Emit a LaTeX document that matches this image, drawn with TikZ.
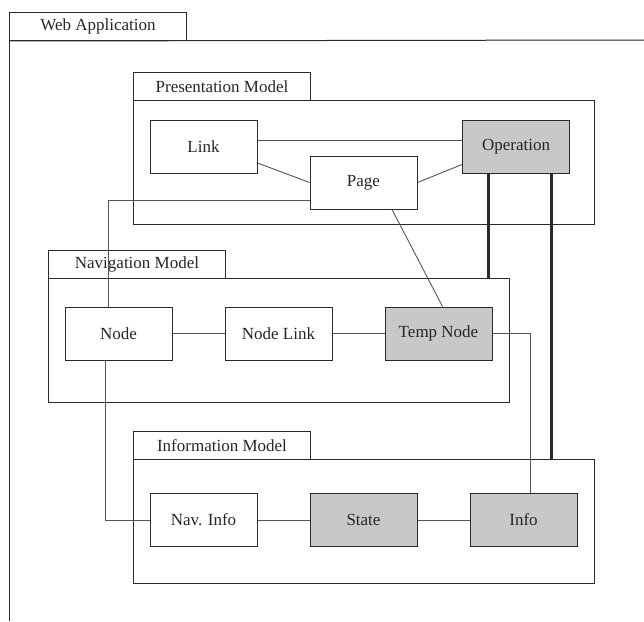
\documentclass[tikz,border=0pt]{standalone}
\usepackage{fontspec}
\setmainfont{Liberation Serif}
\usetikzlibrary{positioning}
\definecolor{ink}{HTML}{2A2A2A}
\definecolor{wirecol}{HTML}{555555}
\definecolor{shade}{HTML}{C8C8C8}

\begin{document}
\begin{tikzpicture}[x=1pt, y=-1pt, font=\fontsize{17}{20}\selectfont, text=black!85,
    cls/.style={draw=ink, line width=1pt, fill=white, minimum width=107pt, minimum height=53pt, inner sep=0pt},
    tempcls/.style={cls, fill=shade},
    tab/.style={draw=ink, line width=1pt, minimum width=177pt, minimum height=28pt, inner sep=0pt, anchor=north west},
    pkg/.style={draw=ink, line width=1pt, minimum width=461pt, minimum height=124pt, inner sep=0pt, anchor=north west},
    wire/.style={draw=wirecol, line width=0.9pt},
    bond/.style={draw=ink, line width=3pt}]
  \useasboundingbox (0,0) rectangle (644,621);

  % The application frame (runs off the page to the right and bottom).
  \node[tab] (webtab) at (9,12) {Web Application};
  \draw[ink, line width=1pt] (webtab.south west) -- (644,40);
  \draw[ink, line width=1pt] (webtab.south west) -- (9,621);

  % Packages.
  \node[tab] (prestab) at (133,72) {Presentation Model};
  \node[pkg] (presbox) at (133,100) {};
  \node[tab] (navtab) at (48,250) {Navigation Model};
  \node[pkg] (navbox) at (48,278) {};
  \node[tab] (infotab) at (133,431) {Information Model};
  \node[pkg] (infobox) at (133,459) {};

  % Presentation classes.
  \node[cls] (link) at (203.5,146.5) {Link};
  \node[tempcls] (oper) at (516,146.5) {Operation};
  \node[cls] (page) at (363.5,182.5) {Page};

  % Navigation classes.
  \node[cls] (node) at (118.5,333.5) {Node};
  \node[cls, right=52pt of node] (nlink) {Node Link};
  \node[tempcls, right=52pt of nlink] (tmp) {Temp Node};

  % Information classes.
  \node[cls] (ninfo) at (203.5,520) {Nav. Info};
  \node[tempcls, right=52pt of ninfo] (state) {State};
  \node[tempcls, right=52pt of state] (info) {Info};

  % Connectors.
  \draw[wire] ([yshift=6.5pt]link.east) -- ([yshift=6.5pt]oper.west);
  \draw[wire] ([yshift=-16.5pt]link.east) -- (page.west);
  \draw[wire] (page.east) -- ([yshift=-18pt]oper.west);
  \draw[wire] ([yshift=-17.5pt]page.west) -| ([xshift=-10.5pt]node.north);
  \draw[wire] ([xshift=28.5pt]page.south) -- ([xshift=4pt]tmp.north);
  \draw[wire] (node) -- (nlink);
  \draw[wire] (nlink) -- (tmp);
  \draw[wire] (tmp.east) -| ([xshift=6.5pt]info.north);
  \draw[wire] ([xshift=-13.5pt]node.south) |- (ninfo.west);
  \draw[wire] (ninfo) -- (state);
  \draw[wire] (state) -- (info);

  % Heavy links from Operation.
  \draw[bond] ([xshift=-28pt]oper.south) -- ([xshift=-28pt]oper.south |- navbox.north);
  \draw[bond] ([xshift=35pt]oper.south) -- ([xshift=35pt]oper.south |- infobox.north);
\end{tikzpicture}
\end{document}
